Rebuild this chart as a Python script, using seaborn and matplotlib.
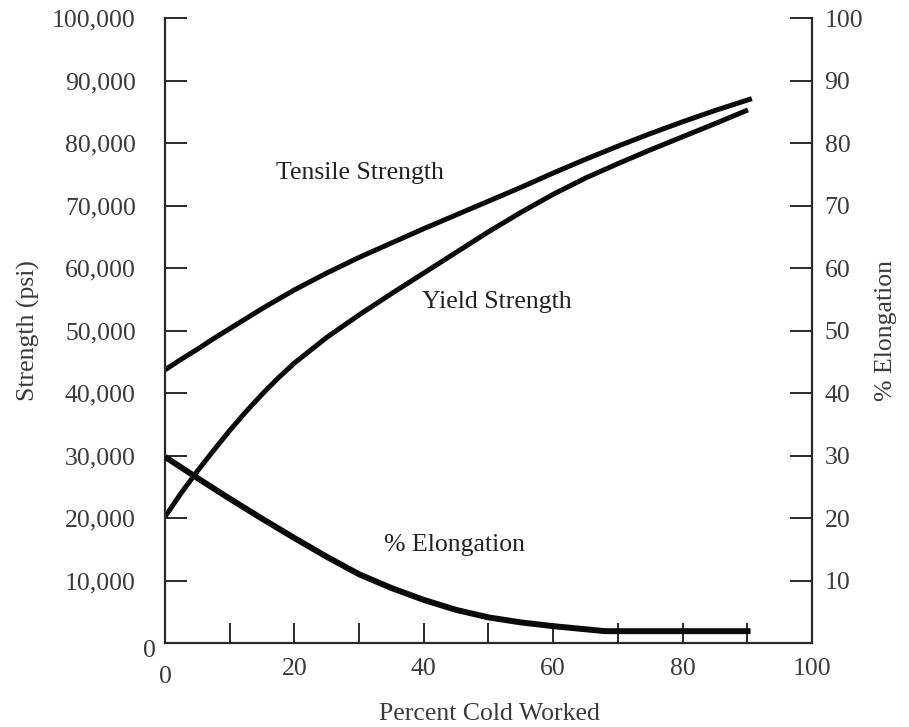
import numpy as np
import pandas as pd
import matplotlib
matplotlib.use("Agg")
import matplotlib.pyplot as plt
import matplotlib.transforms as mtransforms
import seaborn as sns

# ---- data ----
tensile_x = [0, 2.5, 5, 7.5, 10, 12.5, 15, 17.5, 20, 25, 30, 35, 40, 45, 50, 55, 60,
             65, 70, 75, 80, 85, 90.7]
tensile_ksi = [43.7, 45.4, 47.0, 48.7, 50.3, 51.9, 53.5, 55.0, 56.5, 59.2, 61.7, 64.0,
               66.3, 68.5, 70.7, 72.9, 75.2, 77.4, 79.5, 81.5, 83.4, 85.2, 87.1]
yield_x = [0, 2.5, 5, 7.5, 10, 12.5, 15, 17.5, 20, 25, 30, 35, 40, 45, 50, 55, 60,
           65, 70, 75, 80, 85, 90.1]
yield_ksi = [20.2, 24.0, 27.5, 30.8, 34.0, 37.0, 39.8, 42.4, 44.8, 48.9, 52.5, 55.9,
             59.2, 62.5, 65.8, 68.9, 71.8, 74.4, 76.7, 78.9, 81.0, 83.1, 85.3]
elong_x = [0, 5, 10, 15, 20, 25, 30, 35, 40, 45, 50, 55, 60, 65, 68, 75, 80, 85, 90.5]
elong_pct = [29.8, 26.4, 23.1, 19.9, 16.8, 13.8, 11.0, 8.8, 6.9, 5.3, 4.1, 3.3,
             2.7, 2.2, 1.9, 1.9, 1.9, 1.9, 1.9]

x_ticks = [0, 10, 20, 30, 40, 50, 60, 70, 80, 90, 100]
x_ticklabels = ["0", "", "20", "", "40", "", "60", "", "80", "", "100"]
left_ticks = [0, 10000, 20000, 30000, 40000, 50000, 60000, 70000, 80000, 90000, 100000]
left_ticklabels = ["0", "10,000", "20,000", "30,000", "40,000", "50,000", "60,000",
                   "70,000", "80,000", "90,000", "100,000"]
right_ticks = [10, 20, 30, 40, 50, 60, 70, 80, 90, 100]
right_ticklabels = ["10", "20", "30", "40", "50", "60", "70", "80", "90", "100"]

labels = {"tensile": "Tensile Strength", "yield": "Yield Strength", "elong": "% Elongation"}
x_title = "Percent Cold Worked"
left_title = "Strength (psi)"
right_title = "% Elongation"

df_t = pd.DataFrame({"x": tensile_x, "y": np.array(tensile_ksi) * 1000})
df_y = pd.DataFrame({"x": yield_x, "y": np.array(yield_ksi) * 1000})
df_e = pd.DataFrame({"x": elong_x, "y": elong_pct})

# ---- style ----
sns.set_theme(style="white")
plt.rcParams["font.family"] = ["Liberation Serif", "DejaVu Serif"]
TXT = "#3a3a3a"
SP = "#2a2a2a"
FS = 18.5

fig = plt.figure(figsize=(9.09, 7.27), dpi=100)
ax = fig.add_axes([0.1815, 0.1155, 0.7118, 0.8597])
ax2 = ax.twinx()

line_kw = dict(color="#0a0a0a", sort=False, solid_joinstyle="round", solid_capstyle="butt")
sns.lineplot(data=df_t, x="x", y="y", ax=ax, linewidth=3.6, **line_kw)
sns.lineplot(data=df_y, x="x", y="y", ax=ax, linewidth=3.6, **line_kw)
sns.lineplot(data=df_e, x="x", y="y", ax=ax2, linewidth=4.3, **line_kw)

ax.set_xlim(0, 100)
ax.set_ylim(0, 100000)
ax2.set_ylim(0, 100)

ax.set_xticks(x_ticks)
ax.set_xticklabels(x_ticklabels)
ax.set_yticks(left_ticks)
ax.set_yticklabels(left_ticklabels)
ax2.set_yticks(right_ticks)
ax2.set_yticklabels(right_ticklabels)

ax.tick_params(axis="x", direction="in", length=14.5, width=1.4, color=SP,
               pad=11, labelsize=FS, labelcolor=TXT, bottom=True)
ax.tick_params(axis="y", direction="in", length=15.5, width=1.4, color=SP,
               pad=21, labelsize=FS, labelcolor=TXT, left=True)
ax2.tick_params(axis="y", direction="in", length=15.5, width=1.4, color=SP,
                pad=9, labelsize=FS, labelcolor=TXT, right=True)

for a in (ax, ax2):
    a.grid(False)
    a.spines["top"].set_visible(False)
    for s in ("left", "right", "bottom"):
        a.spines[s].set_color(SP)
        a.spines[s].set_linewidth(1.6)
ax2.spines["left"].set_visible(False)
ax2.spines["bottom"].set_visible(False)
ax.spines["right"].set_visible(False)

# the two "0" labels sit slightly offset in the reference
yl0 = ax.get_yticklabels()[0]
yl0.set_transform(yl0.get_transform() + mtransforms.ScaledTranslation(20 / 100, -5 / 100, fig.dpi_scale_trans))
xl0 = ax.get_xticklabels()[0]
xl0.set_transform(xl0.get_transform() + mtransforms.ScaledTranslation(0, -8 / 100, fig.dpi_scale_trans))

ax.set_xlabel(x_title, fontsize=FS, color=TXT)
ax.xaxis.set_label_coords(0.502, -0.096)
ax.set_ylabel(left_title, fontsize=FS, color=TXT)
ax.yaxis.set_label_coords(-0.193, 0.5)
ax2.set_ylabel(right_title, fontsize=FS, color=TXT, rotation=90)
ax2.yaxis.set_label_coords(1.097, 0.5)

ax.text(30.1, 75200, labels["tensile"], fontsize=FS, color="#222222", ha="center", va="center")
ax.text(51.3, 54600, labels["yield"], fontsize=FS, color="#222222", ha="center", va="center")
ax.text(44.8, 15700, labels["elong"], fontsize=FS, color="#222222", ha="center", va="center")

ax.set_facecolor("white")
fig.patch.set_facecolor("white")
fig.savefig("out.png", dpi=100, facecolor="white")
